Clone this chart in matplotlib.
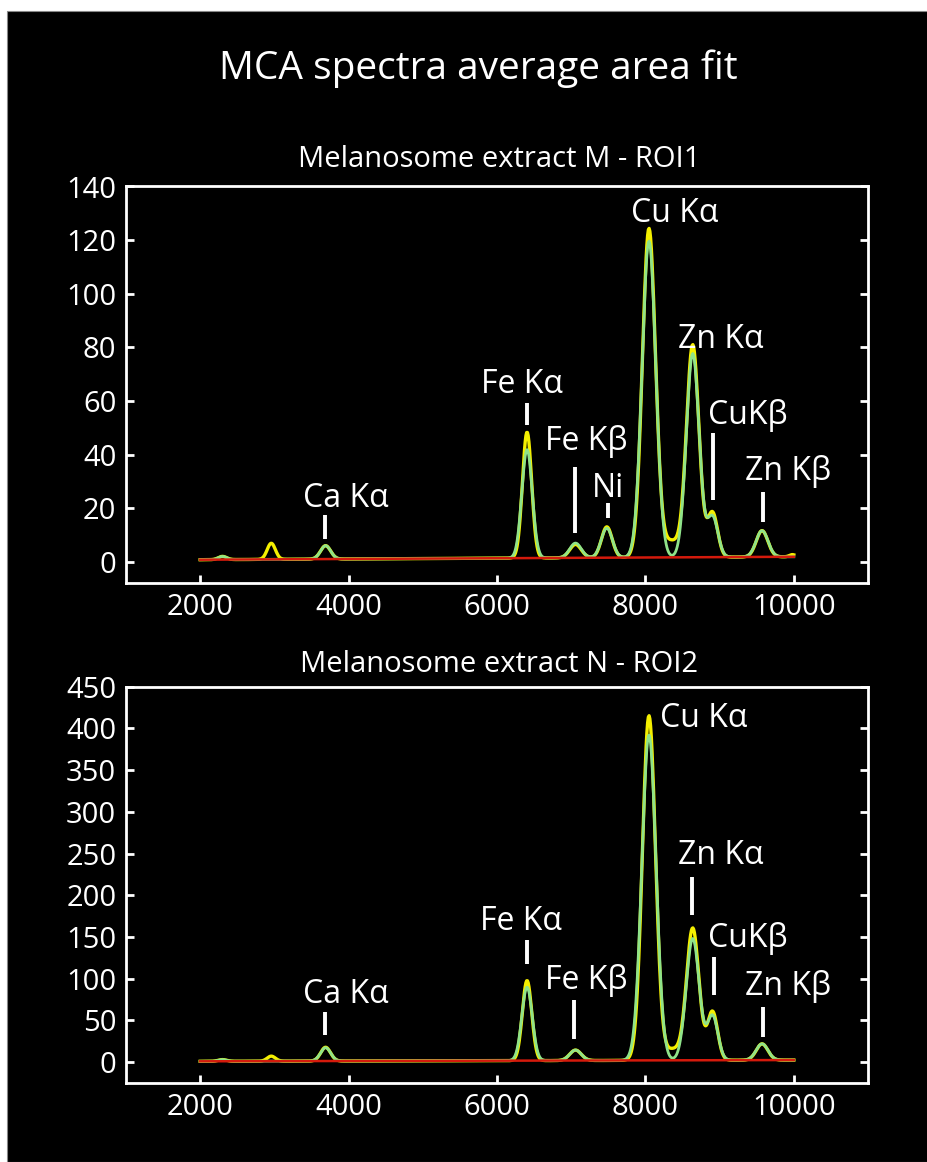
import numpy as np
import matplotlib
matplotlib.use("Agg")
import matplotlib.pyplot as plt
from matplotlib.patches import Rectangle

plt.rcParams['font.family'] = ['Open Sans', 'DejaVu Sans']

# energy axis of the spectra (eV)
energy = np.arange(2000, 10001, 10)

# ROI1 - peak parameters: centre (eV), height, sigma (eV)
roi1_fit_pos = [2300, 3690, 6405, 7058, 7480, 8048, 8638, 8905, 9572]
roi1_fit_h = [1.2, 5.0, 40.5, 5.5, 11.0, 118, 76, 15, 9.8]
roi1_fit_w = [55, 68, 70, 78, 75, 92, 86, 72, 80]

roi1_dat_pos = [2300, 2958, 3690, 6405, 7058, 7480, 8048, 8350, 8638, 8905, 9572, 9980]
roi1_dat_h = [1.2, 6.0, 5.0, 47.0, 5.0, 11.5, 122.5, 6.0, 79, 16.5, 9.8, 0.8]
roi1_dat_w = [55, 55, 68, 62, 78, 72, 88, 120, 84, 68, 78, 40]

roi1_bg_e = [2000, 10000]
roi1_bg = [0.8, 1.9]

# ROI2
roi2_fit_pos = [2300, 3690, 6405, 7058, 8048, 8638, 8905, 9572]
roi2_fit_h = [2.0, 16, 88, 12.5, 390, 146, 53, 19.5]
roi2_fit_w = [55, 68, 70, 78, 95, 88, 72, 80]

roi2_dat_pos = [2300, 2958, 3690, 6405, 7058, 8048, 8370, 8638, 8905, 9572]
roi2_dat_h = [2.0, 6.0, 16.5, 96, 12.5, 413, 13, 158, 58, 19.5]
roi2_dat_w = [55, 55, 66, 63, 78, 88, 110, 84, 68, 78]

roi2_bg_e = [2000, 10000]
roi2_bg = [1.0, 2.5]

# peak labels: text, x, baseline y ; marker line: x, y0, y1
roi1_labels = ["Ca Kα", "Fe Kα", "Fe Kβ", "Ni", "Cu Kα", "Zn Kα", "CuKβ", "Zn Kβ"]
roi1_lab_x = [3968, 6330, 7204, 7491, 8397, 9018, 9383, 9919]
roi1_lab_y = [20.5, 62.9, 41.7, 24.3, 126.9, 79.6, 51.6, 30.5]
roi1_line_x = [3680, 6405, 7049, 7495, 8913, 9589]
roi1_line_y0 = [8.4, 51, 10.6, 16.2, 23, 14.9]
roi1_line_y1 = [17.4, 59.2, 35.4, 21.8, 47.9, 26.1]

roi2_labels = ["Ca Kα", "Fe Kα", "Fe Kβ", "Cu Kα", "Zn Kα", "CuKβ", "Zn Kβ"]
roi2_lab_x = [3968, 6320, 7204, 8781, 9022, 9386, 9919]
roi2_lab_y = [70.6, 158, 88, 402, 238, 138, 80]
roi2_line_x = [3680, 6405, 7035, 8631, 8919, 9589]
roi2_line_y0 = [32, 118, 28, 176, 80, 30]
roi2_line_y1 = [60, 146, 75, 222, 126, 66]

YELLOW = '#f4ef00'
GREEN = '#8fe38a'
RED = '#d41a0c'


def spectrum(pos, h, w, bg_e, bg):
    y = np.interp(energy, bg_e, bg)
    for c, a, s in zip(pos, h, w):
        y = y + a * np.exp(-0.5 * ((energy - c) / s) ** 2)
    return y


fig = plt.figure(figsize=(9.28, 11.62), dpi=100, facecolor='white')
fig.patches.append(Rectangle((7 / 928, 0), 1, 1 - 11 / 1162, transform=fig.transFigure,
                             facecolor='black', edgecolor='#888888', lw=0.8, zorder=-10))

panels = [
    dict(rect=[126 / 928, 1 - 583.3 / 1162, 742 / 928, 396.8 / 1162],
         fit=(roi1_fit_pos, roi1_fit_h, roi1_fit_w), dat=(roi1_dat_pos, roi1_dat_h, roi1_dat_w),
         bg=(roi1_bg_e, roi1_bg), ylim=(-8, 140), yticks=np.arange(0, 141, 20),
         labels=(roi1_labels, roi1_lab_x, roi1_lab_y),
         lines=(roi1_line_x, roi1_line_y0, roi1_line_y1),
         sub="Melanosome extract M - ROI1", sub_y=1 - 167 / 1162),
    dict(rect=[126 / 928, 1 - 1083 / 1162, 742 / 928, 396.3 / 1162],
         fit=(roi2_fit_pos, roi2_fit_h, roi2_fit_w), dat=(roi2_dat_pos, roi2_dat_h, roi2_dat_w),
         bg=(roi2_bg_e, roi2_bg), ylim=(-25, 450), yticks=np.arange(0, 451, 50),
         labels=(roi2_labels, roi2_lab_x, roi2_lab_y),
         lines=(roi2_line_x, roi2_line_y0, roi2_line_y1),
         sub="Melanosome extract N - ROI2", sub_y=1 - 672 / 1162),
]

for p in panels:
    ax = fig.add_axes(p['rect'])
    ax.set_facecolor('black')
    ax.plot(energy, spectrum(*p['dat'], *p['bg']), color=YELLOW, lw=2.4, zorder=2)
    ax.plot(energy, spectrum(*p['fit'], *p['bg']), color=GREEN, lw=2.0, zorder=3)
    ax.plot(p['bg'][0], p['bg'][1], color=RED, lw=1.8, zorder=4)

    for t, x, y in zip(*p['labels']):
        ax.text(x, y, t, color='white', fontsize=23, ha='center', va='baseline')
    for x, y0, y1 in zip(*p['lines']):
        ax.plot([x, x], [y0, y1], color='white', lw=2.8, solid_capstyle='butt')

    ax.set_xlim(1000, 11000)
    ax.set_ylim(*p['ylim'])
    ax.set_xticks(range(2000, 10001, 2000))
    ax.set_yticks(p['yticks'])
    for s in ax.spines.values():
        s.set_color('white')
        s.set_linewidth(2)
    ax.tick_params(colors='white', labelsize=21, direction='in', length=6, width=2,
                   right=True, top=False)
    ax.tick_params(axis='y', pad=7)
    ax.tick_params(axis='x', pad=7)
    fig.text(499 / 928, p['sub_y'], p['sub'], color='white', fontsize=21,
             ha='center', va='baseline')

fig.text(478 / 928, 1 - 79 / 1162, "MCA spectra average area fit", color='white',
         fontsize=28, ha='center', va='baseline')

fig.savefig('out.png', dpi=100, facecolor=fig.get_facecolor())
